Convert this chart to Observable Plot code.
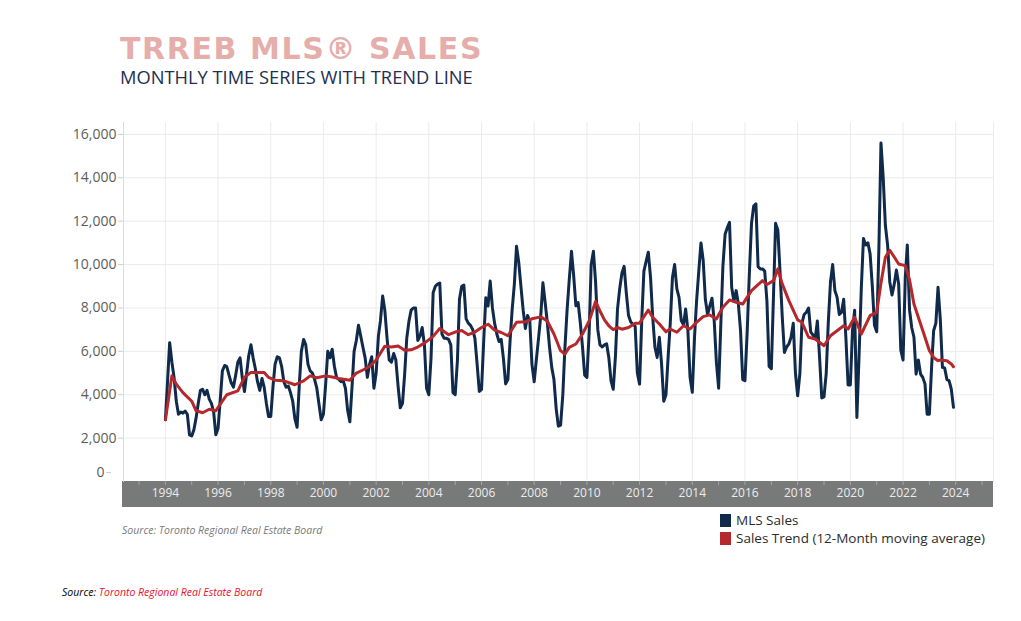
<!DOCTYPE html>
<html>
<head>
<meta charset="utf-8">
<script src="https://cdn.jsdelivr.net/npm/d3@7"></script>
<script src="https://cdn.jsdelivr.net/npm/@observablehq/plot@0.6"></script>
<style>
  html, body { margin: 0; padding: 0; background: #ffffff; }
  #wrap { position: relative; width: 1021px; height: 621px; overflow: hidden; background: #fff; }
  #chart { position: absolute; left: 0; top: 0; }
  .abs { position: absolute; white-space: nowrap; }
  #title { left: 120px; top: 34px; font-family: "DejaVu Sans", sans-serif; font-weight: bold; font-size: 30px; line-height: 30px; letter-spacing: 1.6px; color: #e5aeab; }
  #subtitle { left: 120px; top: 68px; font-family: "Open Sans", sans-serif; font-size: 18.3px; line-height: 18px; color: #1f2f50; }
  .leg { font-family: "Open Sans", sans-serif; font-size: 13.5px; line-height: 16px; color: #2b2b2b; left: 720px; }
  .sw { display: inline-block; width: 11px; height: 13px; vertical-align: -2px; margin-right: 5px; }
  #src1 { left: 122px; top: 523px; font-family: "Open Sans", sans-serif; font-style: italic; font-size: 10.5px; color: #7a7a7a; }
  #src2 { left: 62px; top: 585px; font-family: "Open Sans", sans-serif; font-style: italic; font-size: 10.5px; color: #000; }
  #src2 span { color: #e8112d; }
</style>
</head>
<body>
<div id="wrap">
  <div id="chart"></div>
  <div id="title" class="abs">TRREB MLS® SALES</div>
  <div id="subtitle" class="abs">MONTHLY TIME SERIES WITH TREND LINE</div>
  <div class="abs leg" style="top:512px"><span class="sw" style="background:#0f2a4a"></span>MLS Sales</div>
  <div class="abs leg" style="top:530px"><span class="sw" style="background:#b5282c"></span>Sales Trend (12-Month moving average)</div>
  <div id="src1" class="abs">Source: Toronto Regional Real Estate Board</div>
  <div id="src2" class="abs">Source: <span>Toronto Regional Real Estate Board</span></div>
</div>
<script>
// ---- Data ----
const firstYear = 1994;
// Monthly MLS sales, Jan 1994 .. Dec 2023 (12 values per row = one year)
const monthlySales = [
  2850, 4700, 6400, 5500, 4800, 3700, 3100, 3200, 3150, 3250, 3100, 2150, // 1994
  2100, 2400, 2900, 3600, 4200, 4250, 4000, 4200, 3800, 3600, 3200, 2150, // 1995
  2450, 3800, 5100, 5350, 5300, 4900, 4550, 4350, 4900, 5500, 5700, 4800, // 1996
  4150, 5000, 5800, 6300, 5700, 5200, 4600, 4200, 4750, 4350, 3600, 3000, // 1997
  3000, 4400, 5400, 5750, 5700, 5300, 4600, 4350, 4400, 4100, 3700, 2900, // 1998
  2500, 4500, 6000, 6550, 6300, 5400, 5100, 5000, 4700, 4300, 3550, 2850, // 1999
  3100, 4500, 6000, 5700, 6100, 5300, 4800, 4700, 4600, 4650, 4300, 3300, // 2000
  2750, 4400, 6000, 6500, 7200, 6700, 6200, 5700, 4800, 5400, 5750, 4300, // 2001
  5000, 6700, 7400, 8550, 7900, 6600, 5600, 5500, 5900, 5600, 4400, 3400, // 2002
  3600, 5000, 6600, 7400, 7900, 8000, 8000, 6500, 6700, 7100, 6300, 4300, // 2003
  4000, 5700, 8700, 9000, 9100, 9150, 6800, 6600, 6600, 6550, 6300, 4100, // 2004
  4000, 5600, 8400, 9000, 9050, 7500, 7300, 7200, 7000, 6600, 5400, 4150, // 2005
  4250, 6560, 8470, 8090, 9240, 8000, 7300, 6800, 6450, 6550, 5650, 4500, // 2006
  4700, 6500, 7900, 9100, 10840, 10100, 9000, 7900, 7050, 7650, 7400, 5400, // 2007
  4600, 5650, 6600, 7650, 9160, 8250, 7330, 6180, 5250, 4700, 3350, 2550, // 2008
  2600, 4000, 6100, 7900, 9300, 10610, 9500, 8100, 8250, 7330, 6200, 4900, // 2009
  4800, 6870, 10000, 10610, 9200, 7000, 6300, 6200, 6300, 6350, 5700, 4650, // 2010
  4250, 5800, 7950, 8900, 9600, 9920, 8700, 7650, 7350, 7250, 7150, 5000, // 2011
  4490, 7500, 9700, 10150, 10570, 9410, 7570, 6190, 5720, 6650, 5420, 3700, // 2012
  4000, 5800, 7260, 9410, 10000, 8880, 8490, 7420, 7220, 7950, 6950, 4800, // 2013
  4110, 6650, 8300, 9700, 11000, 10200, 8400, 7700, 8100, 8450, 7400, 5500, // 2014
  4300, 7300, 9900, 11400, 11700, 11950, 8950, 8300, 8800, 8200, 6950, 4700, // 2015
  4650, 6900, 9500, 11900, 12700, 12800, 9900, 9800, 9800, 9700, 8300, 5300, // 2016
  5200, 8700, 11900, 11600, 9700, 7600, 5950, 6200, 6340, 6650, 7300, 5000, // 2017
  3950, 5000, 7300, 7700, 7800, 8000, 6900, 6750, 6600, 7400, 5700, 3850, // 2018
  3900, 5000, 7300, 9200, 10000, 8800, 8500, 7700, 7800, 8400, 6600, 4450, // 2019
  4450, 7000, 7900, 2950, 5800, 8900, 11200, 10900, 11000, 10500, 9000, 7200, // 2020
  6900, 10900, 15600, 14000, 11800, 10900, 9200, 8600, 9100, 9750, 9100, 6050, // 2021
  5600, 9400, 10900, 7900, 7100, 6650, 4950, 5600, 4950, 4800, 4500, 3100, // 2022
  3100, 5300, 6950, 7300, 8950, 7500, 5260, 5230, 4700, 4650, 4260, 3420  // 2023
];

// Sales trend (12-month moving average)
const trendMonths = [
  "1994-01","1994-04","1994-06","1994-09","1995-01","1995-03","1995-06","1995-09","1995-12",
  "1996-02","1996-05","1996-10","1997-01","1997-04","1997-10","1997-12","1998-03","1998-07","1998-12",
  "1999-04","1999-07","1999-10","2000-02","2000-05","2000-08","2001-01","2001-04","2001-07","2001-10",
  "2002-01","2002-05","2002-08","2002-11","2003-02","2003-05","2003-08","2003-11","2004-03","2004-06",
  "2004-10","2005-01","2005-04","2005-07","2005-10","2006-01","2006-04","2006-07","2006-10","2007-01",
  "2007-03","2007-05","2007-09","2007-12","2008-04","2008-07","2008-10","2009-01","2009-03","2009-05",
  "2009-08","2009-11","2010-02","2010-05","2010-07","2010-09","2010-11","2011-01","2011-03","2011-05",
  "2011-08","2011-11","2012-01","2012-05","2012-07","2012-10","2013-01","2013-03","2013-06","2013-09",
  "2013-12","2014-03","2014-06","2014-09","2014-12","2015-03","2015-06","2015-09","2015-12","2016-04",
  "2016-07","2016-09","2016-11","2017-02","2017-04","2017-06","2017-09","2018-01","2018-03","2018-06",
  "2018-09","2019-01","2019-04","2019-07","2019-10","2019-12","2020-03","2020-06","2020-10","2021-01",
  "2021-03","2021-05","2021-07","2021-09","2021-11","2022-02","2022-04","2022-06","2022-09","2022-11",
  "2023-01","2023-03","2023-05","2023-06","2023-09","2023-11","2023-12"
];
const trendValues = [
  2850,4870,4490,4100,3700,3270,3170,3330,3260,
  3570,4000,4180,4800,5030,5030,4800,4670,4640,4460,
  4640,4870,4780,4870,4820,4750,4670,5000,5140,5300,
  5600,6240,6200,6250,6050,6070,6200,6380,6690,7050,
  6770,6890,6960,6770,6890,7100,7250,6980,6870,6720,
  7020,7340,7360,7500,7590,7400,6800,6030,5870,6180,
  6340,6800,7400,8300,7860,7450,7180,7000,7100,7020,
  7100,7300,7300,7900,7570,7260,6900,7030,6880,7180,
  7030,7340,7600,7680,7490,8030,8370,8260,8180,8800,
  9080,9260,9080,9260,9800,9110,8340,7450,7340,6650,
  6570,6260,6720,6950,7180,7030,7570,6800,7650,7800,
  9150,10340,10660,10350,10030,9950,9300,8180,7260,6650,
  6030,5720,5570,5600,5570,5420,5290
];

// Axis ticks / labels
const yTicks = [0, 2000, 4000, 6000, 8000, 10000, 12000, 14000, 16000];
const xLabelYears = [1994, 1996, 1998, 2000, 2002, 2004, 2006, 2008, 2010, 2012, 2014, 2016, 2018, 2020, 2022, 2024];
const xTickYears = d3.range(1993, 2026);

// ---- Build tables for the library ----
const sales = monthlySales.map((v, i) => ({
  date: new Date(Date.UTC(firstYear + Math.floor(i / 12), i % 12, 1)),
  value: v
}));
const trend = trendMonths.map((s, i) => ({
  date: new Date(Date.UTC(+s.slice(0, 4), +s.slice(5, 7) - 1, 1)),
  value: trendValues[i]
}));
const yearDate = y => new Date(Date.UTC(y, 0, 1));
const xLabelDates = xLabelYears.map(yearDate);
const xTickDates = xTickYears.map(yearDate);

const gridColor = "#ebebeb";

const plot = Plot.plot({
  width: 1021,
  height: 621,
  marginTop: 122,
  marginBottom: 140,
  marginLeft: 123,
  marginRight: 28,
  style: { fontFamily: "'Open Sans', sans-serif", background: "transparent", overflow: "visible" },
  x: { type: "utc", domain: [new Date(Date.UTC(1992, 4, 30)), new Date(Date.UTC(2025, 5, 8))] },
  y: { domain: [0, 16550] },
  marks: [
    Plot.gridX(xLabelDates, { stroke: gridColor, strokeOpacity: 1 }),
    Plot.gridY(yTicks.filter(d => d > 0), { stroke: gridColor, strokeOpacity: 1 }),
    Plot.frame({ anchor: "right", stroke: gridColor, strokeOpacity: 1 }),
    Plot.frame({ anchor: "left", stroke: "#dcdcdc", strokeOpacity: 1 }),
    Plot.line(sales, { x: "date", y: "value", stroke: "#0f2a4a", strokeWidth: 3, strokeLinejoin: "round" }),
    Plot.line(trend, { x: "date", y: "value", stroke: "#b5282c", strokeWidth: 3, strokeLinejoin: "round", curve: "linear" }),
    Plot.axisY({ ticks: yTicks.filter(d => d > 0), tickSize: 5, tickPadding: 2, tickFormat: d3.format(","), fontSize: 14, fill: "#5c5c5c", stroke: "#cfcfcf", label: null }),
    Plot.axisY({ ticks: [0], tickSize: 5, tickPadding: 2, tickFormat: d3.format(","), fontSize: 14, fill: "#5c5c5c", stroke: "#cfcfcf", label: null, dx: -12, dy: -9 }),
    Plot.axisX({ ticks: xTickDates, tickSize: 4, tickFormat: () => "", stroke: "#a3a3a3", label: null }),
    Plot.axisX({ ticks: xLabelDates, tickSize: 0, tickPadding: 7, tickFormat: "%Y", fontSize: 12, fill: "#ececec", label: null })
  ]
});

// grey band behind the x-axis labels, sized from the library's scales
const xr = plot.scale("x").range;
const yr = plot.scale("y").range;
d3.select(plot).insert("rect", "g")
  .attr("x", Math.min(...xr) - 1)
  .attr("y", Math.max(...yr))
  .attr("width", Math.abs(xr[1] - xr[0]) + 1)
  .attr("height", 26)
  .attr("fill", "#787a7a");

document.getElementById("chart").appendChild(plot);
</script>
</body>
</html>
